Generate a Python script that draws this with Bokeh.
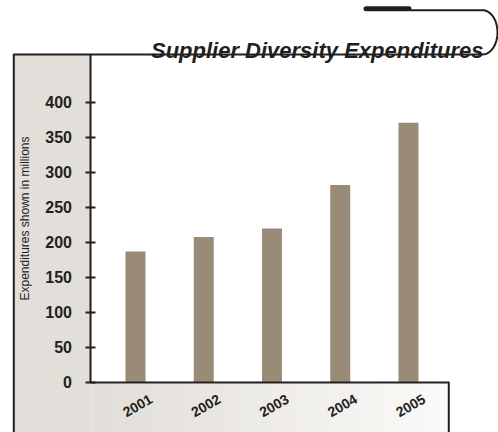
import numpy as np
from bokeh.plotting import figure
from bokeh.models import (Range1d, BoxAnnotation, PolyAnnotation, Label, LabelSet,
                          ColumnDataSource, FixedTicker)
from bokeh.core.properties import value
from bokeh.embed import file_html
from bokeh.resources import INLINE

# ---- data ----
years = ["2001", "2002", "2003", "2004", "2005"]
expenditures = [187, 208, 220, 282, 371]
y_ticks = [0, 50, 100, 150, 200, 250, 300, 350, 400]
title_text = "Supplier Diversity Expenditures"
y_label = "Expenditures shown in millions"

positions = list(range(1, len(years) + 1))

DARK = "#231F20"
PANEL = "#E2DED9"
BAR = "#9A8A78"
FONT = "Liberation Sans"

# frame covers the whole canvas; axes are drawn at fixed locations inside it
p = figure(width=498, height=432, output_backend="svg", toolbar_location=None,
           title=None,
           x_range=Range1d(-0.978, 6.319), y_range=Range1d(-71.43, 545.71),
           min_border=0, min_border_left=0, min_border_right=0,
           min_border_top=0, min_border_bottom=0,
           background_fill_color="white", border_fill_color="white",
           outline_line_color=None)
p.grid.visible = False

# y axis
ya = p.yaxis[0]
ya.fixed_location = 0.348
ya.bounds = (0, 468.6)
ya.ticker = FixedTicker(ticks=y_ticks)
ya.minor_tick_line_color = None
ya.major_tick_in = 5
ya.major_tick_out = 5
ya.major_tick_line_width = 2
ya.major_tick_line_color = DARK
ya.axis_line_width = 2
ya.axis_line_color = DARK
ya.major_label_text_font = FONT
ya.major_label_text_font_style = "bold"
ya.major_label_text_font_size = "16px"
ya.major_label_text_color = DARK
ya.major_label_standoff = 14
ya.axis_label = y_label
ya.axis_label_text_font = FONT
ya.axis_label_text_font_style = "normal"
ya.axis_label_text_font_size = "12px"
ya.axis_label_text_color = DARK
ya.axis_label_standoff = 10

# x axis (line only)
xa = p.xaxis[0]
xa.fixed_location = 0
xa.bounds = (0.348, 5.5905)
xa.ticker = FixedTicker(ticks=[])
xa.major_tick_line_color = None
xa.minor_tick_line_color = None
xa.axis_line_width = 2
xa.axis_line_color = DARK
xa.major_label_text_font_size = "0px"

# ---- decorations (canvas units) ----
p.add_layout(BoxAnnotation(left=13.3, right=91, top=54, bottom=440,
                           left_units="canvas", right_units="canvas",
                           top_units="canvas", bottom_units="canvas",
                           fill_color=PANEL, fill_alpha=1, line_color=None,
                           level="underlay"))

n = 24
c0 = np.array([226, 222, 217])
c1 = np.array([251, 250, 248])
edges = np.linspace(91, 448, n + 1)
for i in range(n):
    c = c0 + (c1 - c0) * i / (n - 1)
    p.add_layout(BoxAnnotation(left=edges[i], right=edges[i + 1] + 0.5, top=383, bottom=440,
                               left_units="canvas", right_units="canvas",
                               top_units="canvas", bottom_units="canvas",
                               fill_color="#%02x%02x%02x" % tuple(int(v) for v in c),
                               fill_alpha=1, line_color=None, level="underlay"))

# bars
p.vbar(x=positions, top=expenditures, bottom=0, width=0.293,
       fill_color=BAR, line_color=None)

# year labels under the axis
src = ColumnDataSource(dict(x=positions, y=[0] * len(years), text=years))
p.add_layout(LabelSet(x="x", y="y", text="text", source=src, angle=0.52,
                      x_offset=2, y_offset=-23, text_align="center",
                      text_baseline="middle", text_font=value(FONT),
                      text_font_style="bold", text_font_size="14px",
                      text_color=DARK))


def polyline(xs, ys, width, cap="butt"):
    xs = list(xs) + list(xs)[::-1]
    ys = list(ys) + list(ys)[::-1]
    p.add_layout(PolyAnnotation(xs=xs, ys=ys, xs_units="canvas", ys_units="canvas",
                                fill_color=None, fill_alpha=0, line_color=DARK,
                                line_alpha=1, line_width=width, line_cap=cap,
                                line_join="round"))


t = np.linspace(np.pi / 2, -np.pi / 2, 30)
arc_x = 482 + 15 * np.cos(t)
arc_y = 31.85 + 22.15 * np.sin(t)
frame_x = [13.3, 13.3] + list(arc_x) + [410]
frame_y = [440, 54] + list(arc_y) + [9.7]
polyline(frame_x, frame_y, 2)
polyline([448.3, 448.3], [382, 440], 2)
polyline([365.5, 408.5], [8.2, 8.2], 5, cap="round")

p.add_layout(Label(x=483, y=50, x_units="canvas", y_units="canvas", text=title_text,
                   text_align="right", text_baseline="alphabetic",
                   text_font=FONT, text_font_style="bold italic",
                   text_font_size="22px", text_color=DARK))

open("out.html", "w").write(file_html(p, INLINE))
